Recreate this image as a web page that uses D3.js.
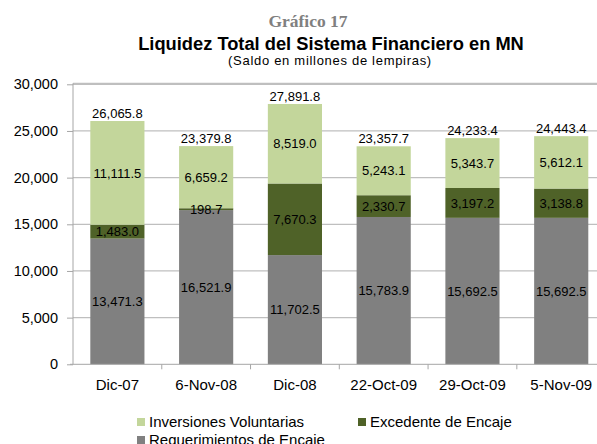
<!DOCTYPE html>
<html><head><meta charset="utf-8">
<script src="https://cdn.jsdelivr.net/npm/d3@7"></script>
<style>body{margin:0;background:#fff;overflow:hidden}svg{display:block}</style>
</head><body>
<script>
const categories = ["Dic-07","6-Nov-08","Dic-08","22-Oct-09","29-Oct-09","5-Nov-09"];
const requerimientos = [13471.3,16521.9,11702.5,15783.9,15692.5,15692.5];
const excedente = [1483.0,198.7,7670.3,2330.7,3197.2,3138.8];
const inversiones = [11111.5,6659.2,8519.0,5243.1,5343.7,5612.1];
const totals = [26065.8,23379.8,27891.8,23357.7,24233.4,24443.4];
const yTicks = [0,5000,10000,15000,20000,25000,30000];
const seriesNames = ["Requerimientos de Encaje","Excedente de Encaje","Inversiones Voluntarias"];
const colors = ["#808080","#4F6228","#C3D69B"];

const W=597,H=444;
const svg=d3.select("body").append("svg").attr("width",W).attr("height",H);
const font="Liberation Sans, Arial, sans-serif";

const x=d3.scaleBand().domain(categories).range([73,605.6]).paddingInner(0.39).paddingOuter(0.195);
const y=d3.scaleLinear().domain([0,30000]).range([364.3,84.3]);

// gridlines
svg.append("g").selectAll("line").data(yTicks.slice(1)).join("line")
  .attr("x1",73).attr("x2",605.6).attr("y1",d=>y(d)).attr("y2",d=>y(d))
  .attr("stroke","#BFBFBF").attr("stroke-width",1.2);
svg.append("line").attr("x1",73).attr("x2",605.6).attr("y1",83.3).attr("y2",83.3).attr("stroke","#BFBFBF").attr("stroke-width",1.2);

const rows=categories.map((c,i)=>({cat:c,r:requerimientos[i],e:excedente[i],v:inversiones[i]}));
const stack=d3.stack().keys(["r","e","v"])(rows);
const g=svg.append("g");
stack.forEach((s,si)=>{
  g.append("g").selectAll("rect").data(s).join("rect")
   .attr("x",d=>x(d.data.cat)).attr("width",x.bandwidth())
   .attr("y",d=>y(d[1])).attr("height",d=>y(d[0])-y(d[1]))
   .attr("fill",colors[si]);
});

// y axis
const yAxis=d3.axisLeft(y).tickValues(yTicks).tickFormat(d3.format(",")).tickSize(6).tickPadding(9);
const ya=svg.append("g").attr("transform","translate(73,0)").call(yAxis);
ya.selectAll("path,line").attr("stroke","#A6A6A6");
ya.select(".domain").attr("d","M0,83.3V364.3");
ya.selectAll("text").attr("font-family",font).attr("font-size","14.5px").attr("fill","#000");

// x axis
const xa=svg.append("g").attr("transform","translate(0,364.3)").call(d3.axisBottom(x).tickSize(0).tickPadding(15));
xa.select(".domain").attr("d","M70,0H605.6").attr("stroke","#A6A6A6");
xa.selectAll("text").attr("font-family",font).attr("font-size","15px").attr("fill","#000");
const step=x.step();
xa.append("g").selectAll("line").data(categories.slice(1)).join("line")
  .attr("x1",d=>x(d)-x.paddingInner()*step/2).attr("x2",d=>x(d)-x.paddingInner()*step/2)
  .attr("y1",0).attr("y2",5).attr("stroke","#A6A6A6");

// segment labels
const fmt=d3.format(",.1f");
stack.forEach((s,si)=>{
  g.append("g").selectAll("text").data(s).join("text")
   .attr("x",d=>x(d.data.cat)+x.bandwidth()/2)
   .attr("y",d=>(y(d[0])+y(d[1]))/2)
   .attr("dy","0.36em").attr("text-anchor","middle")
   .attr("font-family",font).attr("font-size","13px").attr("fill","#000")
   .text(d=>fmt(d[1]-d[0]));
});
g.append("g").selectAll("text").data(categories).join("text")
  .attr("x",d=>x(d)+x.bandwidth()/2).attr("y",(d,i)=>y(totals[i])-3)
  .attr("text-anchor","middle").attr("font-family",font).attr("font-size","13px").attr("fill","#000")
  .text((d,i)=>fmt(totals[i]));

// titles
svg.append("text").attr("x",308).attr("y",26.5).attr("text-anchor","middle")
  .attr("font-family","Liberation Serif, Times New Roman, serif").attr("font-weight","bold")
  .attr("font-size","17.5px").attr("fill","#808080").text("Gráfico 17");
svg.append("text").attr("x",331).attr("y",49.5).attr("text-anchor","middle")
  .attr("font-family",font).attr("font-weight","bold").attr("font-size","18.3px").attr("fill","#000")
  .text("Liquidez Total del Sistema Financiero en MN");
svg.append("text").attr("x",330).attr("y",65).attr("text-anchor","middle")
  .attr("font-family",font).attr("font-size","13px").attr("letter-spacing","0.7px").attr("fill","#000")
  .text("(Saldo en millones de lempiras)");

// legend
const legend=[{n:seriesNames[2],c:colors[2],x:137,y:422},{n:seriesNames[1],c:colors[1],x:358,y:422},{n:seriesNames[0],c:colors[0],x:137,y:440}];
const lg=svg.append("g").selectAll("g").data(legend).join("g").attr("transform",d=>`translate(${d.x},${d.y})`);
lg.append("rect").attr("x",0).attr("y",-4).attr("width",8).attr("height",8).attr("fill",d=>d.c);
lg.append("text").attr("x",12).attr("y",0).attr("dy","0.36em").attr("font-family",font).attr("font-size","15px").attr("fill","#000").text(d=>d.n);
</script>
</body></html>
